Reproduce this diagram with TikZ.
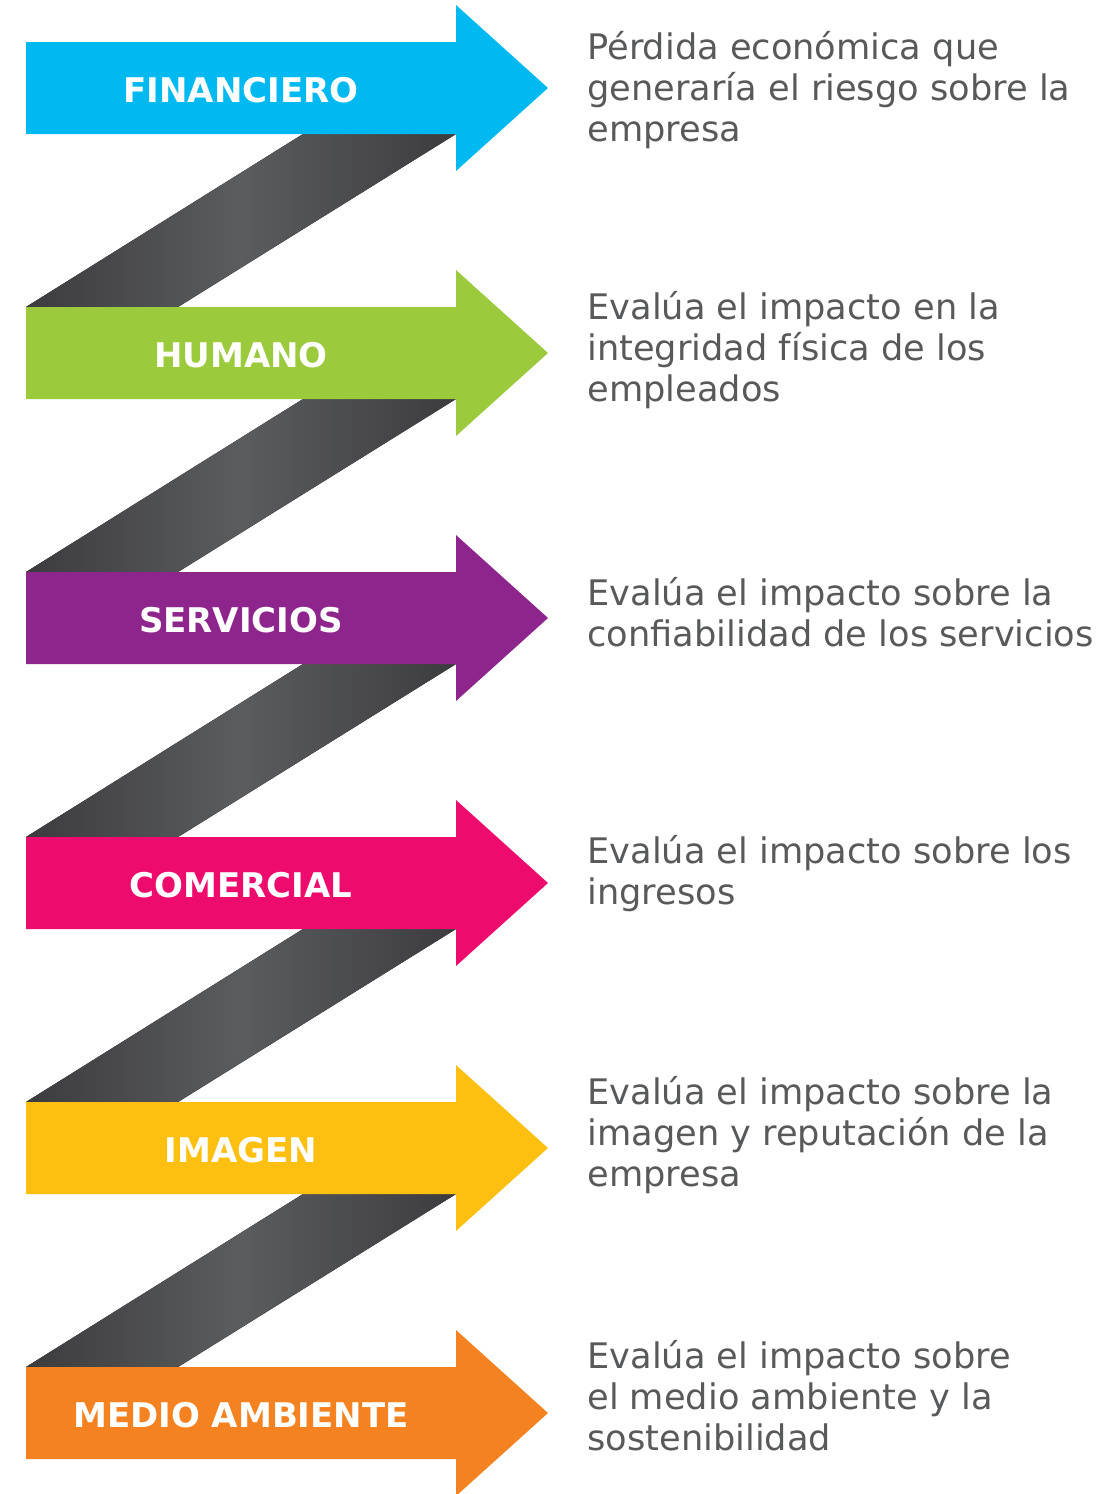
\documentclass[tikz,border=0pt]{standalone}
\usepackage{fontspec}
\setmainfont{DejaVu Sans}
\usetikzlibrary{positioning}
\definecolor{cfin}{HTML}{00B9F1}
\definecolor{chum}{HTML}{9BCA3C}
\definecolor{cser}{HTML}{8E258D}
\definecolor{ccom}{HTML}{ED0C6E}
\definecolor{cima}{HTML}{FDC010}
\definecolor{cmed}{HTML}{F58220}
\definecolor{banddark}{HTML}{3C3C3E}
\definecolor{bandlight}{HTML}{5B5C5E}
\definecolor{txtgray}{HTML}{58595B}
\tikzset{
  band/.style={left color=banddark,right color=banddark,middle color=bandlight},
  lab/.style={text=white,font=\bfseries\fontsize{17}{20}\selectfont},
  desc/.style={anchor=west,align=left,inner sep=0pt,text=txtgray,
    font=\fontsize{17.6}{20.5}\selectfont}
}
\begin{document}
\begin{tikzpicture}[x=0.5pt,y=-0.5pt]
\useasboundingbox (0,0) rectangle (1107,1494);
\foreach \i in {0,...,4}
  \fill[band] (303,{134+265*\i}) -- (456,{134+265*\i}) -- (178,{307+265*\i})
    -- (26,{307+265*\i}) -- cycle;
\foreach \i/\col/\lab/\dy/\desc in {
  0/cfin/{FINANCIERO}/90/{Pérdida económica que\\generaría el riesgo sobre la\\empresa},
  1/chum/{HUMANO}/85/{Evalúa el impacto en la\\integridad física de los\\empleados},
  2/cser/{SERVICIOS}/82.5/{Evalúa el impacto sobre la\\confiabilidad de los servicios},
  3/ccom/{COMERCIAL}/79/{Evalúa el impacto sobre los\\ingresos},
  4/cima/{IMAGEN}/75/{Evalúa el impacto sobre la\\imagen y reputación de la\\empresa},
  5/cmed/{MEDIO AMBIENTE}/71/{Evalúa el impacto sobre\\el medio ambiente y la\\sostenibilidad}}{
  \fill[\col] (26,{42+265*\i}) -- (456,{42+265*\i}) -- (456,{5+265*\i})
    -- (548,{88+265*\i}) -- (456,{171+265*\i}) -- (456,{134+265*\i})
    -- (26,{134+265*\i}) -- cycle;
  \node[lab] (lab\i) at (241,{90+265*\i}) {\lab};
  \node[desc] (desc\i) at (587,{\dy+265*\i}) {\desc};
}
\end{tikzpicture}
\end{document}
